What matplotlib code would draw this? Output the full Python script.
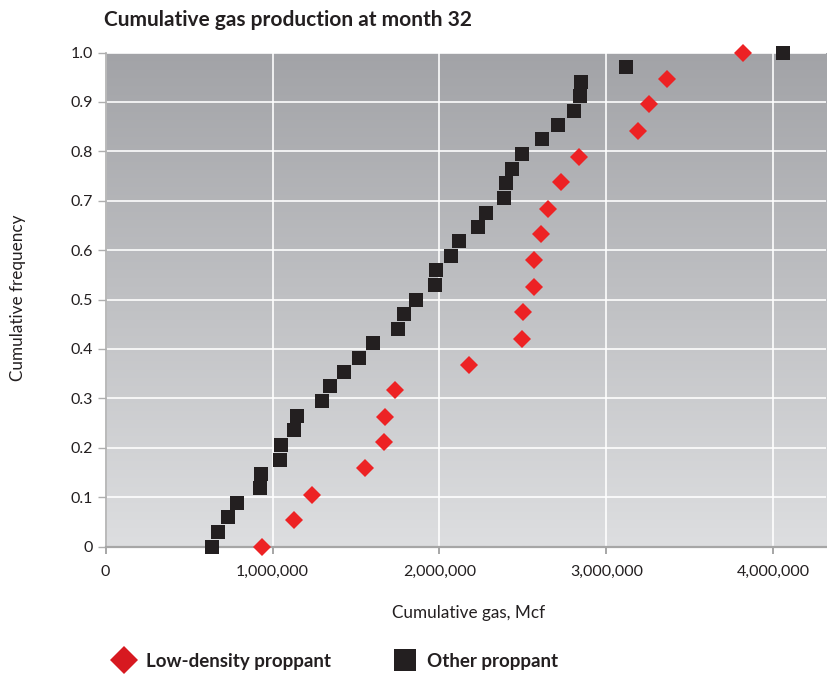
import matplotlib

matplotlib.use("Agg")
import matplotlib.pyplot as plt
import numpy as np
from matplotlib.colors import LinearSegmentedColormap
from matplotlib.lines import Line2D
from matplotlib.ticker import FuncFormatter

plt.rcParams["font.family"] = ["Lato", "DejaVu Sans"]

# cumulative gas at month 32, Mcf
low_density_gas = [937000, 1127000, 1235000, 1552000, 1666000, 1674000, 1734000,
                   2178000, 2494000, 2498000, 2564000, 2568000, 2606000, 2650000,
                   2729000, 2837000, 3187000, 3254000, 3360000, 3817000]
low_density_freq = [0.0, 0.053, 0.105, 0.158, 0.211, 0.263, 0.316, 0.368, 0.421, 0.474,
                    0.526, 0.579, 0.632, 0.684, 0.737, 0.789, 0.842, 0.895, 0.947, 1.0]

other_gas = [636000, 672000, 734000, 786000, 925000, 931000, 1045000, 1049000, 1129000,
             1149000, 1296000, 1344000, 1428000, 1518000, 1602000, 1751000, 1787000,
             1859000, 1973000, 1979000, 2069000, 2117000, 2231000, 2278000, 2386000,
             2398000, 2434000, 2494000, 2614000, 2710000, 2804000, 2841000, 2847000,
             3117000, 4057000]
other_freq = [0.0, 0.029, 0.059, 0.088, 0.118, 0.147, 0.176, 0.206, 0.235, 0.265, 0.294,
              0.324, 0.353, 0.382, 0.412, 0.441, 0.471, 0.5, 0.529, 0.559, 0.588, 0.618,
              0.647, 0.676, 0.706, 0.735, 0.765, 0.794, 0.824, 0.853, 0.882, 0.912, 0.941,
              0.971, 1.0]

x_ticks = [0, 1000000, 2000000, 3000000, 4000000]
y_ticks = [0, 0.1, 0.2, 0.3, 0.4, 0.5, 0.6, 0.7, 0.8, 0.9, 1.0]

RED = "#ed2224"
BLACK = "#231f20"
TEXT = "#231f20"

W, H = 828, 675
fig = plt.figure(figsize=(W / 100, H / 100), dpi=100)
left, right, top, bottom = 105.5, 826, 52.5, 546.5
ax = fig.add_axes([left / W, 1 - bottom / H, (right - left) / W, (bottom - top) / H])

x_max = (right - left) / 167 * 1e6
ax.set_xlim(0, x_max)
ax.set_ylim(0, 1.0)

# vertical gradient background, darker at the top
grad = np.linspace(0, 1, 256).reshape(-1, 1)
cmap = LinearSegmentedColormap.from_list("bg", ["#dddee0", "#a2a3a7"])
ax.imshow(grad, extent=[0, x_max, 0, 1.0], origin="lower", aspect="auto",
          cmap=cmap, zorder=0)

ax.set_xticks(x_ticks)
ax.set_yticks(y_ticks)
ax.xaxis.set_major_formatter(FuncFormatter(lambda v, p: "0" if v == 0 else f"{v:,.0f}"))
ax.yaxis.set_major_formatter(FuncFormatter(lambda v, p: "0" if v == 0 else f"{v:.1f}"))
ax.grid(True, color="white", linewidth=1.3, alpha=0.9, zorder=1)
ax.set_axisbelow(True)

for side in ("top", "right"):
    ax.spines[side].set_visible(False)
ax.spines["left"].set_color("#aeaeae")
ax.spines["left"].set_linewidth(1.2)
ax.spines["bottom"].set_color("#a6a6a6")
ax.spines["bottom"].set_linewidth(1.6)
ax.tick_params(axis="y", length=6, width=1.0, color="#aeaeae", pad=3,
               labelsize=11.5, labelcolor=TEXT)
ax.tick_params(axis="x", length=5, width=1.4, color="#a6a6a6", pad=8,
               labelsize=11.5, labelcolor=TEXT)

ax.plot(other_gas, other_freq, linestyle="none", marker="s", markersize=10.2,
        markeredgewidth=0, color=BLACK, clip_on=False, zorder=3)
ax.plot(low_density_gas, low_density_freq, linestyle="none", marker="D", markersize=9.0,
        markeredgewidth=0, color=RED, clip_on=False, zorder=4)

fig.text(104 / W, 1 - 19.5 / H, "Cumulative gas production at month 32",
         fontsize=15, fontweight="bold", color=TEXT, ha="left", va="center")
fig.text(18 / W, 1 - 298 / H, "Cumulative frequency", fontsize=12.3, color=TEXT,
         rotation=90, ha="center", va="center")
fig.text(469 / W, 1 - 613 / H, "Cumulative gas, Mcf", fontsize=12.3, color=TEXT,
         ha="center", va="center")

handles = [
    Line2D([], [], linestyle="none", marker="D", markersize=14, markeredgewidth=0,
           color="#d71920", label="Low-density proppant"),
    Line2D([], [], linestyle="none", marker="s", markersize=16, markeredgewidth=0,
           color=BLACK, label="Other proppant"),
]
leg = fig.legend(handles=handles, loc="center left", bbox_to_anchor=(109 / W, 1 - 661 / H),
                 ncol=2, frameon=False, borderpad=0, borderaxespad=0, handlelength=1.6,
                 handletextpad=0.37, columnspacing=3.15,
                 prop={"weight": "bold", "size": 13.5})
for t in leg.get_texts():
    t.set_color(TEXT)

fig.savefig("out.png", dpi=100)
